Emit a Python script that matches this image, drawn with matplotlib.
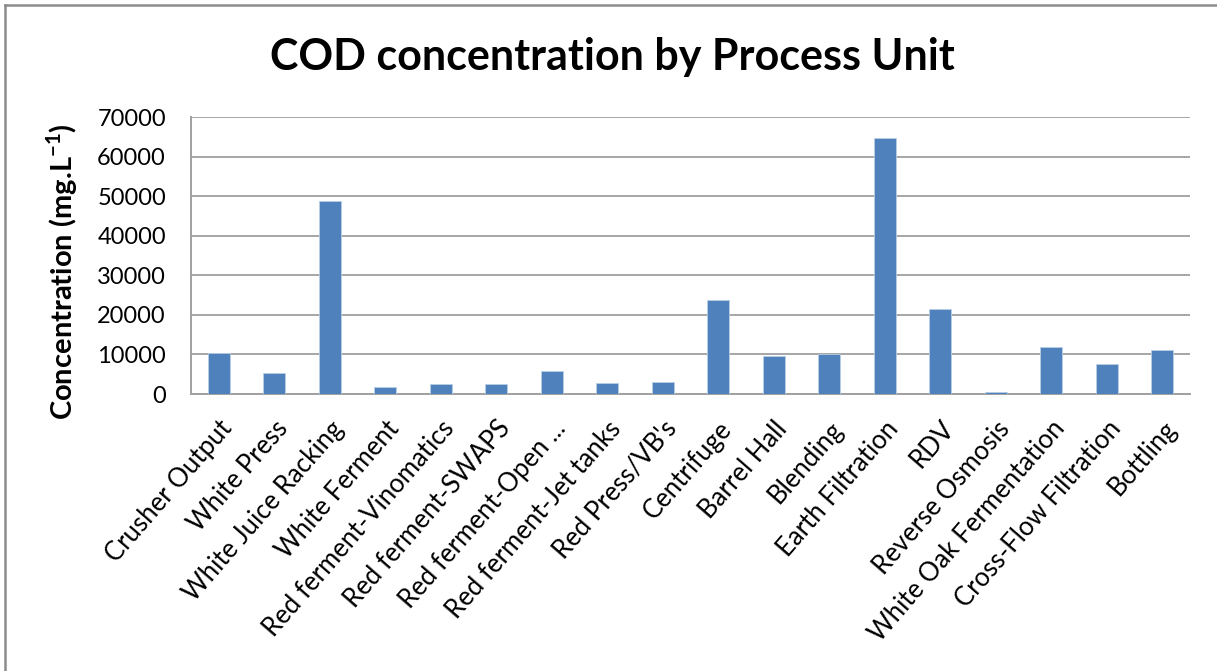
import matplotlib
matplotlib.use("Agg")
import matplotlib.pyplot as plt
from matplotlib.lines import Line2D

# COD concentration per process unit (mg/L)
units = [
    "Crusher Output", "White Press", "White Juice Racking", "White Ferment",
    "Red ferment-Vinomatics", "Red ferment-SWAPS", "Red ferment-Open ...",
    "Red ferment-Jet tanks", "Red Press/VB's", "Centrifuge", "Barrel Hall",
    "Blending", "Earth Filtration", "RDV", "Reverse Osmosis",
    "White Oak Fermentation", "Cross-Flow Filtration", "Bottling",
]
cod_values = [
    10400, 5200, 48700, 1700, 2600, 2600, 5900, 2700, 3000, 23800,
    9500, 10100, 64600, 21500, 400, 11800, 7600, 11100,
]
y_ticks = [0, 10000, 20000, 30000, 40000, 50000, 60000, 70000]

plt.rcParams["font.family"] = ["Lato", "DejaVu Sans"]

W, H = 1217, 671
fig = plt.figure(figsize=(W / 100, H / 100), dpi=100)
ax = fig.add_axes([191 / W, 1 - 394 / H, (1190 - 191) / W, (394 - 117) / H])

x = list(range(len(units)))
ax.bar(x, cod_values, width=0.4, color="#4F81BD", edgecolor="#B9CDE5",
       linewidth=0.6, zorder=3)

ax.set_xlim(-0.5, len(units) - 0.5)
ax.set_ylim(0, 70000)
ax.set_yticks(y_ticks)
ax.set_yticklabels([str(t) for t in y_ticks], fontsize=17)
ax.set_xticks(x)
ax.set_xticklabels(units, rotation=49, ha="right", va="top",
                   rotation_mode="anchor", fontsize=18.5)
ax.tick_params(axis="y", length=0, pad=18)
ax.tick_params(axis="x", length=0, pad=16)

ax.yaxis.grid(True, color="#A6A6A6", linewidth=1.4, zorder=0)
ax.set_axisbelow(True)
for side in ("top", "right"):
    ax.spines[side].set_visible(False)
for side in ("left", "bottom"):
    ax.spines[side].set_color("#A0A0A0")
    ax.spines[side].set_linewidth(1.4)

fig.text(612 / W, 1 - 57 / H, "COD concentration by Process Unit",
         ha="center", va="center", fontsize=31, fontweight="bold")
fig.text(62 / W, 1 - 272 / H, r"Concentration (mg.L$^{\mathregular{-1}}$)",
         ha="center", va="center", rotation=90, fontsize=21,
         fontweight="bold")

# outer chart frame (top and left edges)
frame_color = "#8C8C8C"
fig.add_artist(Line2D([5 / W, 1], [1 - 5 / H, 1 - 5 / H],
                      transform=fig.transFigure, color=frame_color, lw=1.8))
fig.add_artist(Line2D([5 / W, 5 / W], [0, 1 - 5 / H],
                      transform=fig.transFigure, color=frame_color, lw=1.8))

fig.savefig("out.png", dpi=100, facecolor="white")
